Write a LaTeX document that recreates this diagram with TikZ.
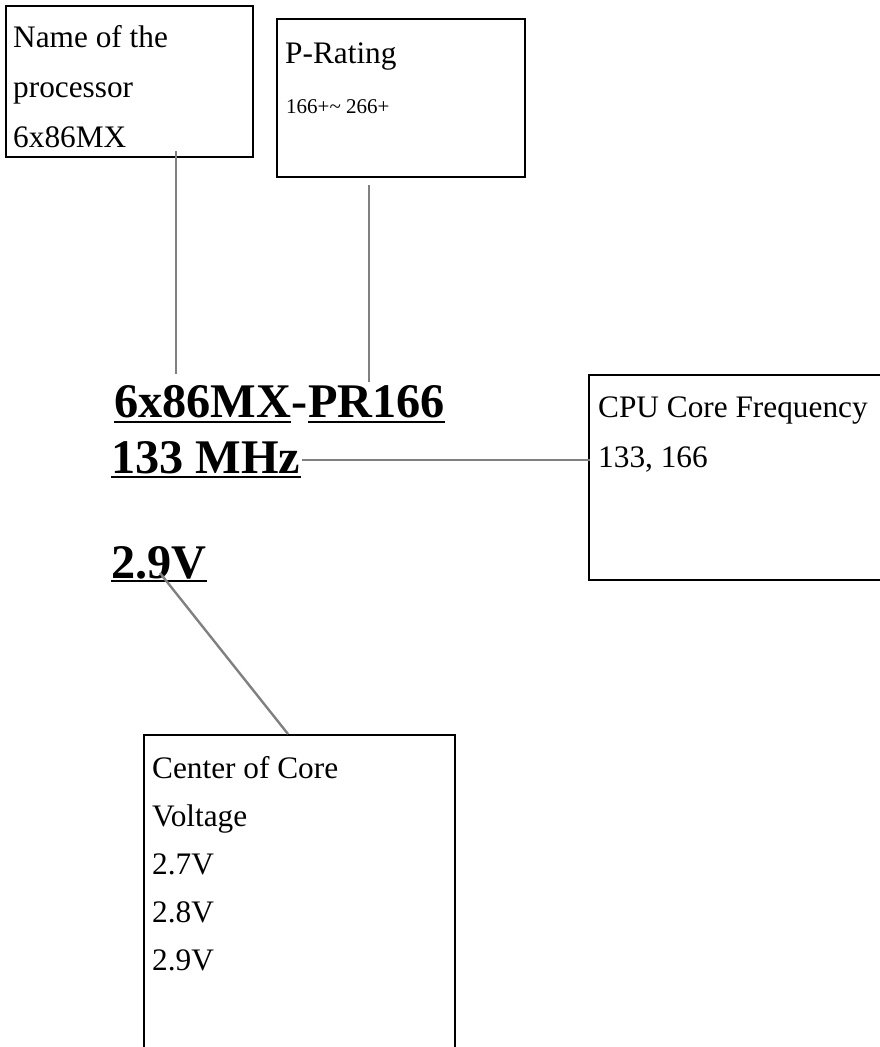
\documentclass[tikz,border=0pt]{standalone}
\usepackage{fontspec}
\setmainfont{Liberation Serif}
\begin{document}
\begin{tikzpicture}[x=1pt,y=-1pt,
  boxline/.style={draw=black,line width=2.4pt},
  conn/.style={draw=gray,line width=2.4pt},
  txt/.style={anchor=base west,inner sep=0pt,font=\fontsize{31.3}{36}\selectfont},
  small/.style={anchor=base west,inner sep=0pt,font=\fontsize{21}{24}\selectfont},
  big/.style={anchor=base west,inner sep=0pt,font=\fontsize{48.3}{54}\selectfont\bfseries},
  uline/.style={draw=black,line width=2.4pt}]
\useasboundingbox (0,0) rectangle (880,1047);
% boxes
\draw[boxline] (6,6) rectangle (253,157);
\draw[boxline] (277,19) rectangle (525,177);
\draw[boxline] (589,375) rectangle (884,580);
\draw[boxline] (144,735) rectangle (455,1052);
% box 1 text
\node[txt] (n1a) at (13,47) {Name of the};
\node[txt] (n1b) at (13,97) {processor};
\node[txt] (n1c) at (13,147) {6x86MX};
% box 2 text
\node[txt] (n2a) at (285,63) {P-Rating};
\node[small] (n2b) at (286,113) {166+\textasciitilde\ 266+};
% box 3 text
\node[txt] (n3a) at (598,417) {CPU Core Frequency};
\node[txt] (n3b) at (598,467) {133, 166};
% box 4 text
\node[txt] (n4a) at (152,778) {Center of Core};
\node[txt] (n4b) at (152,826) {Voltage};
\node[txt] (n4c) at (152,874) {2.7V};
\node[txt] (n4d) at (152,922) {2.8V};
\node[txt] (n4e) at (152,970) {2.9V};
% main text
\node[big] (m1) at (114,417) {6x86MX};
\node[big,anchor=base west] (mdash) at (m1.base east) {-};
\node[big,anchor=base west] (m2) at (mdash.base east) {PR166};
\node[big] (m3) at (111,473) {133 MHz};
\node[big] (m4) at (111,578) {2.9V};
% underlines
\draw[uline] ([yshift=-5pt]m1.base west) -- ([yshift=-5pt]m1.base east);
\draw[uline] ([yshift=-5pt]m2.base west) -- ([yshift=-5pt]m2.base east);
\draw[uline] ([yshift=-4pt]m3.base west) -- ([yshift=-4pt]m3.base east);
\draw[uline] ([yshift=-3pt]m4.base west) -- ([yshift=-3pt]m4.base east);
% connectors
\coordinate (c1s) at (176,151);
\coordinate (c1e) at (176,374);
\coordinate (c2s) at (369,185);
\coordinate (c2e) at (369,382);
\coordinate (c3s) at (302,460);
\coordinate (c3e) at (590,460);
\coordinate (c4s) at (160,573);
\coordinate (c4e) at (288,734);
\draw[conn] (c1s) -- (c1e);
\draw[conn] (c2s) -- (c2e);
\draw[conn] (c3s) -- (c3e);
\draw[conn] (c4s) -- (c4e);
\end{tikzpicture}
\end{document}
